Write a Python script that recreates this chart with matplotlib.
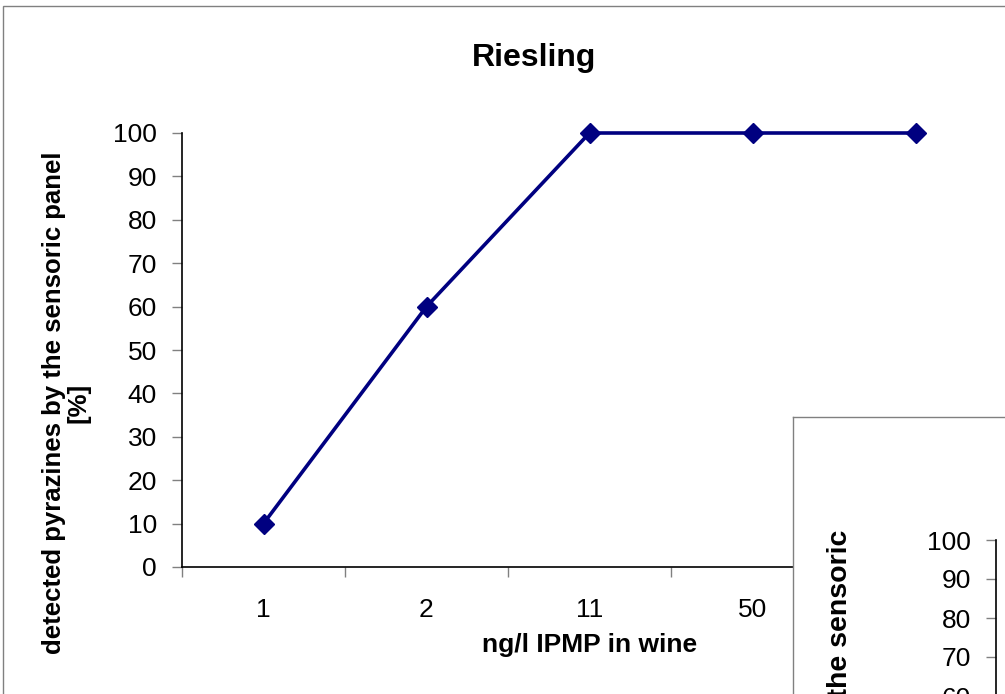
import matplotlib
matplotlib.use("Agg")
import matplotlib.pyplot as plt
from matplotlib.patches import Rectangle

categories = ["1", "2", "11", "50", "100"]
values = [10, 60, 100, 100, 100]
yticks = [0, 10, 20, 30, 40, 50, 60, 70, 80, 90, 100]
title = "Riesling"
xlabel = "ng/l IPMP in wine"
ylabel = "detected pyrazines by the sensoric panel\n[%]"
ylabel2 = "detected pyrazines by the sensoric\npanel [%]"

plt.rcParams['font.family'] = ['Liberation Sans', 'DejaVu Sans']

W, H = 1005, 694
fig = plt.figure(figsize=(W / 100, H / 100), dpi=100)

def fx(px):
    return px / W

def fy(py):
    return (H - py) / H

# outer chart frame
fig.patches.append(Rectangle((fx(3), fy(800)), fx(1200), (800 - 6) / H,
                             transform=fig.transFigure, fill=False,
                             edgecolor='#808080', linewidth=1.0, zorder=0))

ax = fig.add_axes([fx(182), fy(567), fx(815), 434 / H])
x = list(range(len(categories)))
ax.plot(x, values, color='#000080', linewidth=2.6, marker='D', markersize=10,
        markerfacecolor='#000080', markeredgecolor='#000080', zorder=3,
        clip_on=False)
ax.set_xlim(-0.5, len(categories) - 0.5)
ax.set_ylim(0, 100)
ax.set_yticks(yticks)
ax.set_xticks(x)
ax.set_xticklabels(categories)
ax.set_xticks([i - 0.5 for i in range(len(categories) + 1)], minor=True)
ax.tick_params(axis='x', which='major', length=0, pad=22, labelsize=19)
ax.tick_params(axis='x', which='minor', length=7, color='#808080', width=1,
               direction='out')
ax.tick_params(axis='y', length=7, color='#808080', width=1, direction='out',
               pad=11, labelsize=19)
for s in ('top', 'right'):
    ax.spines[s].set_visible(False)
ax.spines['left'].set_linewidth(1.2)
ax.spines['bottom'].set_linewidth(1.2)
ax.set_xlabel(xlabel, fontsize=19, fontweight='bold')
ax.xaxis.set_label_coords(0.5, (567 - 645) / 434, transform=ax.transAxes)
ax.xaxis.label.set_va('center')

fig.text(fx(534), fy(58), title, fontsize=23, fontweight='bold',
         ha='center', va='center')
fig.text(fx(66), fy(403), ylabel, fontsize=18.5, fontweight='bold',
         rotation=90, ha='center', va='center', multialignment='center',
         linespacing=1.0)

# overlapping second chart (partially visible)
box = fig.add_axes([fx(793), fy(900), fx(400), (900 - 417) / H], zorder=5)
box.set_facecolor('white')
box.set_xticks([])
box.set_yticks([])
for s in box.spines.values():
    s.set_edgecolor('#808080')
    s.set_linewidth(1.0)

ax2 = fig.add_axes([fx(996), fy(930), fx(300), 390 / H], zorder=6)
ax2.patch.set_alpha(0)
ax2.set_ylim(0, 100)
ax2.set_yticks(yticks)
ax2.set_xticks([])
for s in ('top', 'right', 'bottom'):
    ax2.spines[s].set_visible(False)
ax2.spines['left'].set_linewidth(1.2)
ax2.tick_params(axis='y', length=7, color='#808080', width=1, direction='out',
                pad=11, labelsize=19)
fig.text(fx(827), fy(530), ylabel2, fontsize=20.5, fontweight='bold',
         rotation=90, ha='left', va='top', multialignment='left',
         linespacing=1.0, zorder=7)

fig.savefig("out.png", dpi=100)
